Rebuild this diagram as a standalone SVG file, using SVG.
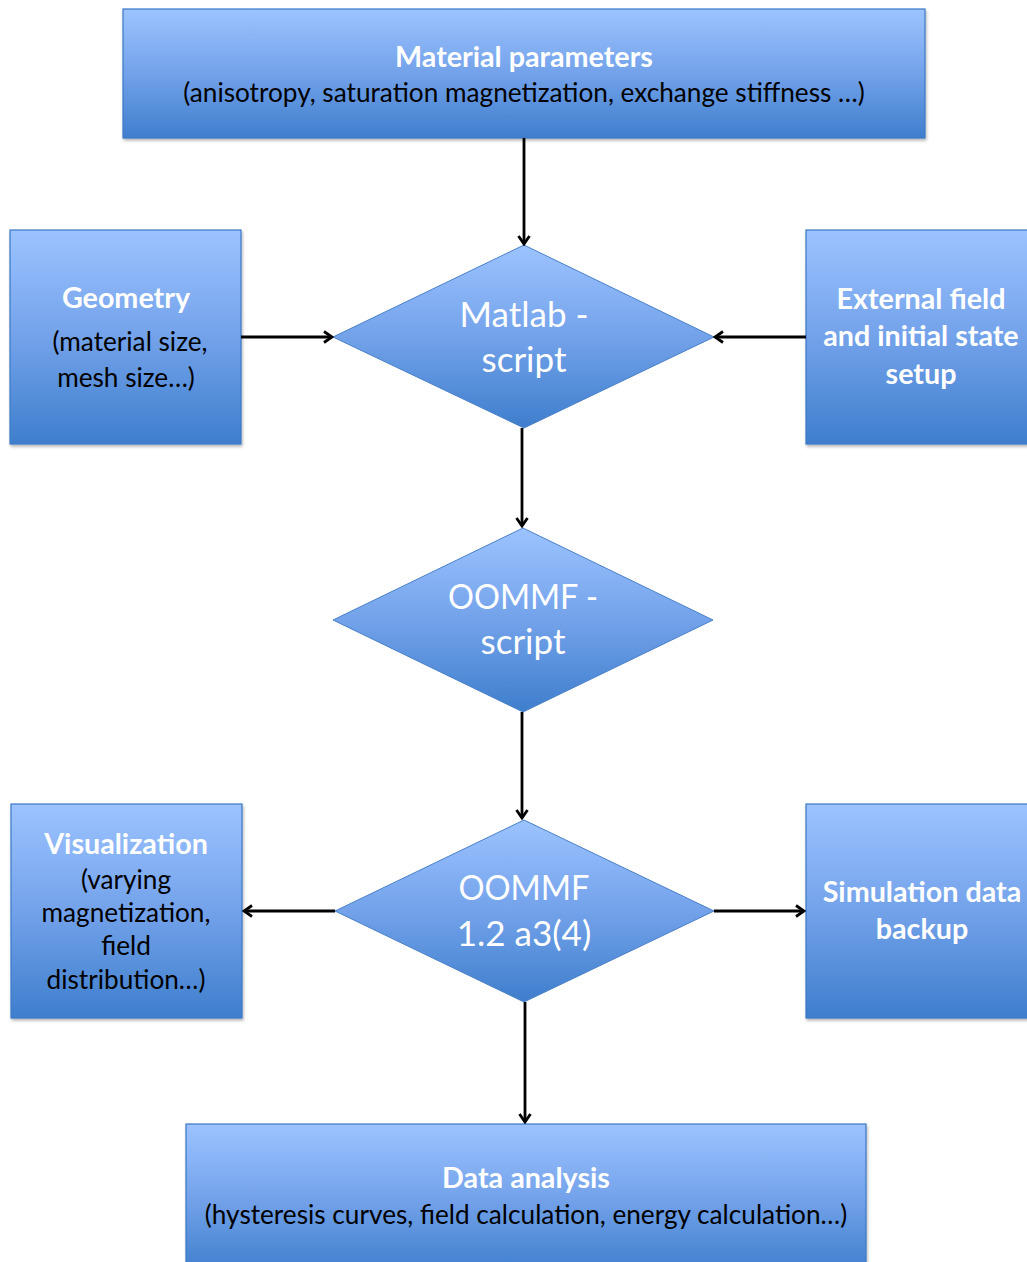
<svg xmlns="http://www.w3.org/2000/svg" width="1027" height="1262" viewBox="0 0 1027 1262">
<defs>
<linearGradient id="g" x1="0" y1="0" x2="0" y2="1">
<stop offset="0" stop-color="#9cc3ff"/>
<stop offset="0.5" stop-color="#73a2ea"/>
<stop offset="1" stop-color="#3e7ecc"/>
</linearGradient>
<filter id="sh" x="-5%" y="-5%" width="110%" height="115%">
<feDropShadow dx="1" dy="2" stdDeviation="1.5" flood-color="#000" flood-opacity="0.3"/>
</filter>
<marker id="ah" viewBox="0 0 14 14" refX="12" refY="7" markerWidth="14" markerHeight="14" markerUnits="userSpaceOnUse" orient="auto">
<path d="M4,1.5 L12,7 L4,12.5" fill="none" stroke="#000" stroke-width="2.8" stroke-linejoin="miter"/>
</marker>
</defs>
<style>
.box{fill:url(#g);stroke:#3b78c6;stroke-width:1.2;filter:url(#sh)}
.dia{fill:url(#g);stroke:#4a80c8;stroke-width:1}
.t{font-family:Lato,"Liberation Sans",sans-serif;text-anchor:middle}
.h{font-weight:bold;fill:#fff;font-size:28.7px}
.s{fill:#000;font-size:26.2px}
.d{fill:#fff;font-size:35px}
.c line{stroke:#000;stroke-width:2.8;marker-end:url(#ah)}
</style>

<g id="material">
<rect class="box" x="123" y="9" width="802" height="129"/>
<text class="t h" x="524" y="67">Material parameters</text>
<text class="t s" x="524" y="102">(anisotropy, saturation magnetization, exchange stiffness …)</text>
</g>

<g id="geometry">
<rect class="box" x="10" y="230" width="231" height="214"/>
<text class="t h" x="126" y="308">Geometry</text>
<text class="t s" x="130" y="351">(material size,</text>
<text class="t s" x="126" y="387">mesh size…)</text>
</g>

<g id="external">
<rect class="box" x="806" y="230" width="240" height="214"/>
<text class="t h" x="921" y="309">External field</text>
<text class="t h" x="921" y="346">and initial state</text>
<text class="t h" x="921" y="384">setup</text>
</g>

<g id="matlab">
<polygon class="dia" points="524,245 714,337 524,428 333,337"/>
<text class="t d" x="524" y="327">Matlab -</text>
<text class="t d" x="524" y="372">script</text>
</g>

<g id="oommfscript">
<polygon class="dia" points="523,528 713,620 523,712 333,620"/>
<text class="t d" x="523" y="609" textLength="150" lengthAdjust="spacingAndGlyphs">OOMMF -</text>
<text class="t d" x="523" y="654">script</text>
</g>

<g id="oommf">
<polygon class="dia" points="524,820 714,911 524,1002 335,911"/>
<text class="t d" x="524" y="900" textLength="131" lengthAdjust="spacingAndGlyphs">OOMMF</text>
<text class="t d" x="524" y="946">1.2 a3(4)</text>
</g>

<g id="visualization">
<rect class="box" x="11" y="804" width="231" height="214"/>
<text class="t h" x="126" y="854">Visualization</text>
<text class="t s" x="126" y="889">(varying</text>
<text class="t s" x="126" y="922">magnetization,</text>
<text class="t s" x="126" y="955">field</text>
<text class="t s" x="126" y="989">distribution…)</text>
</g>

<g id="backup">
<rect class="box" x="806" y="804" width="240" height="214"/>
<text class="t h" x="922" y="902">Simulation data</text>
<text class="t h" x="922" y="939">backup</text>
</g>

<g id="analysis">
<rect class="box" x="186" y="1124" width="680" height="150"/>
<text class="t h" x="526" y="1188">Data analysis</text>
<text class="t s" x="526" y="1224">(hysteresis curves, field calculation, energy calculation…)</text>
</g>

<g id="connectors" class="c">
<line x1="524" y1="138" x2="524" y2="244"/>
<line x1="241" y1="337" x2="332" y2="337"/>
<line x1="806" y1="337" x2="715" y2="337"/>
<line x1="522" y1="428" x2="522" y2="526"/>
<line x1="522" y1="712" x2="522" y2="818"/>
<line x1="335" y1="911" x2="244" y2="911"/>
<line x1="714" y1="911" x2="804" y2="911"/>
<line x1="525" y1="1002" x2="525" y2="1122"/>
</g>
</svg>
